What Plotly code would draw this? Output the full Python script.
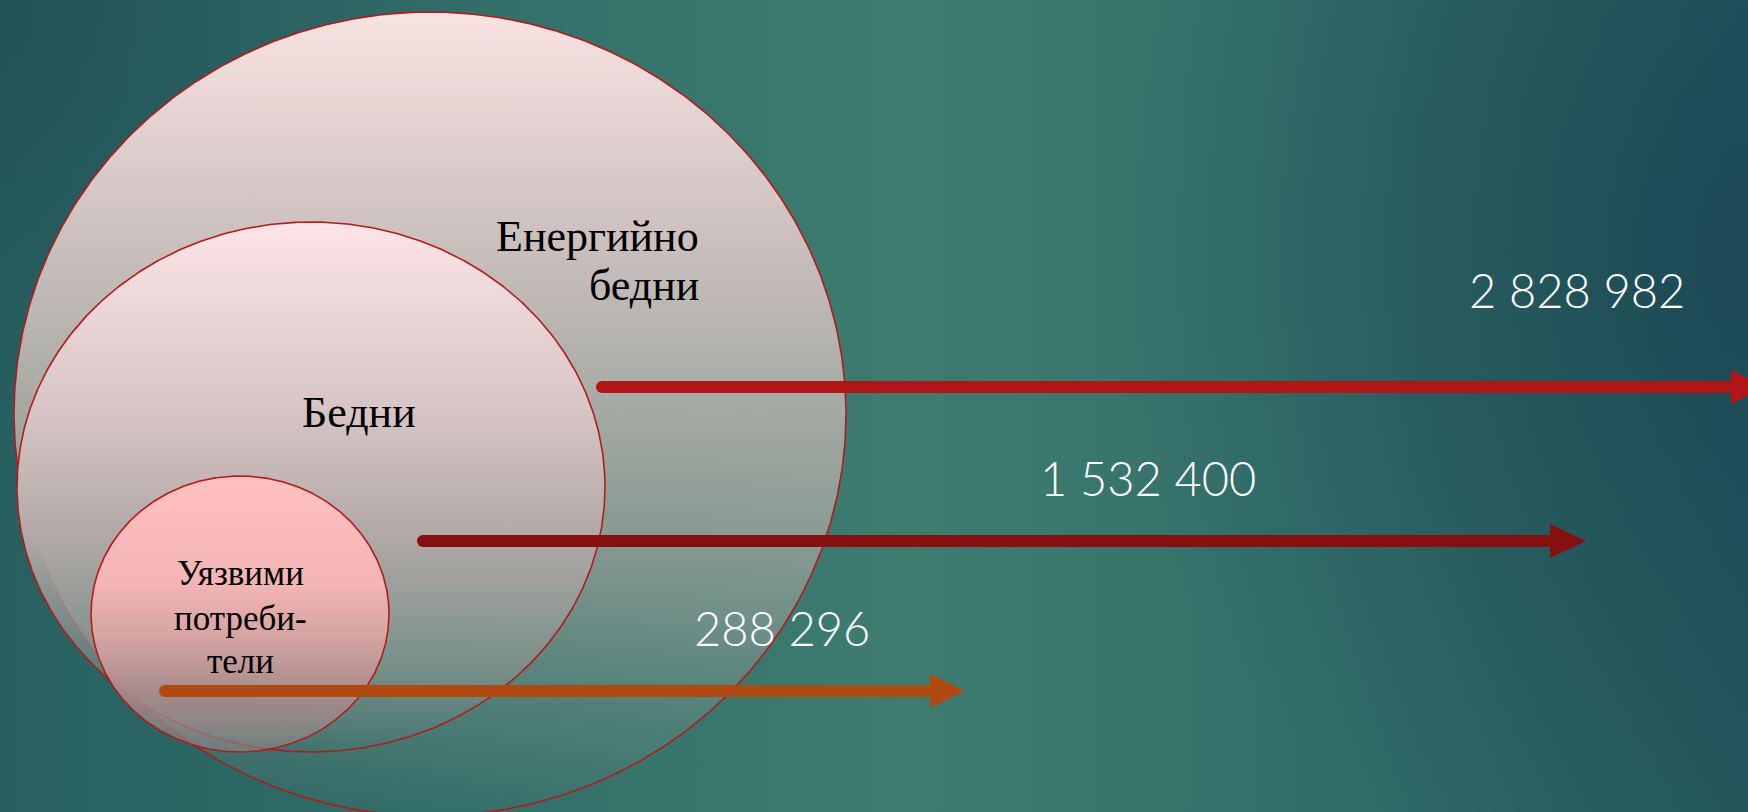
import numpy as np
import plotly.graph_objects as go

W, H = 1748, 812

# ---- data ----
groups = ["Енергийно бедни", "Бедни", "Уязвими потребители"]
counts = [2828982, 1532400, 288296]
group_label_lines = [["Енергийно", "бедни"], ["Бедни"], ["Уязвими", "потреби-", "тели"]]

# ellipse geometry (pixel space): cx, cy, rx, ry
ell_cx = [430, 311, 240]
ell_cy = [414, 487, 614]
ell_rx = [416, 294, 149]
ell_ry = [402, 265, 138]

# arrows: start x, y, head base x, tip x
arr_x0 = [602, 423, 165]
arr_y = [387, 541, 691]
arr_xb = [1731, 1550, 930]
arr_xt = [1766, 1586, 965]
arr_col = ["#b01616", "#860f0f", "#b04a10"]

# number labels positions
num_x = [1577, 1148, 782]
num_y = [290, 478, 628]

# label positions
lab_x = [701, 359, 240]
lab_y = [[236, 285], [412], [573, 618, 661]]
lab_anchor = ["right", "center", "center"]
lab_size = [44, 44, 35]

ell_scales = [
    [[0, "rgba(250,226,226,1)"], [0.3, "rgba(200,190,188,1)"], [0.47, "rgba(170,172,166,1)"],
     [0.66, "rgba(160,165,158,0.75)"], [0.845, "rgba(160,165,158,0.3)"], [1, "rgba(160,165,158,0)"]],
    [[0, "rgba(254,228,230,1)"], [0.36, "rgba(214,196,196,1)"], [0.6, "rgba(176,168,166,1)"],
     [0.8, "rgba(150,155,150,0.6)"], [1, "rgba(150,155,150,0)"]],
    [[0, "rgba(255,192,192,1)"], [0.4, "rgba(242,180,180,1)"], [0.6, "rgba(210,162,162,1)"],
     [0.8, "rgba(170,138,138,0.9)"], [1, "rgba(150,140,140,0.5)"]],
]

fig = go.Figure()

# background: horizontal base gradient
fig.add_trace(go.Scatter(
    x=[0, W, W, 0, 0], y=[0, 0, H, H, 0], mode="lines", fill="toself",
    line=dict(width=0), hoverinfo="skip", showlegend=False,
    fillgradient=dict(type="horizontal", start=0, stop=W,
                      colorscale=[[0, "#27605f"], [0.25, "#326e69"], [0.52, "#3e7c70"],
                                  [0.7, "#35726b"], [1, "#245a5e"]]),
))
# darker top-right glow
fig.add_trace(go.Scatter(
    x=[1100, 2396, 2396, 1100, 1100], y=[-450, -450, 950, 950, -450], mode="lines", fill="toself",
    line=dict(width=0), hoverinfo="skip", showlegend=False,
    fillgradient=dict(type="radial",
                      colorscale=[[0, "rgba(18,50,72,0.45)"], [1, "rgba(18,50,72,0)"]]),
))
# darker top-left corner
fig.add_trace(go.Scatter(
    x=[-500, 500, 500, -500, -500], y=[-450, -450, 450, 450, -450], mode="lines", fill="toself",
    line=dict(width=0), hoverinfo="skip", showlegend=False,
    fillgradient=dict(type="radial",
                      colorscale=[[0, "rgba(18,50,72,0.3)"], [1, "rgba(18,50,72,0)"]]),
))

t = np.linspace(0, 2 * np.pi, 721)
for i in range(3):
    ex = ell_cx[i] + ell_rx[i] * np.cos(t)
    ey = ell_cy[i] + ell_ry[i] * np.sin(t)
    fig.add_trace(go.Scatter(
        x=ex, y=ey, mode="lines", fill="toself",
        line=dict(color="#b31b1b", width=1.6), hoverinfo="skip", showlegend=False,
        fillgradient=dict(type="vertical", start=ell_cy[i] - ell_ry[i], stop=ell_cy[i] + ell_ry[i],
                          colorscale=ell_scales[i]),
    ))

shapes = []
for i in range(3):
    shapes.append(dict(type="line", xref="x", yref="y", x0=arr_x0[i], x1=arr_xb[i] + 2,
                       y0=arr_y[i], y1=arr_y[i], line=dict(color=arr_col[i], width=12), layer="above"))
    shapes.append(dict(type="circle", xref="x", yref="y", x0=arr_x0[i] - 6, x1=arr_x0[i] + 6,
                       y0=arr_y[i] - 6, y1=arr_y[i] + 6, fillcolor=arr_col[i],
                       line=dict(width=0), layer="above"))
    hh = 17
    shapes.append(dict(type="path", xref="x", yref="y",
                       path=f"M {arr_xb[i]},{arr_y[i]-hh} L {arr_xt[i]},{arr_y[i]} L {arr_xb[i]},{arr_y[i]+hh} Z",
                       fillcolor=arr_col[i], line=dict(width=0), layer="above"))

annotations = []
for i in range(3):
    annotations.append(dict(
        x=num_x[i], y=num_y[i], xref="x", yref="y", showarrow=False,
        text=f"{counts[i]:,}".replace(",", " "),
        font=dict(family="Lato", size=47, color="white", weight=300),
        xanchor="center", yanchor="middle"))
    for j, line in enumerate(group_label_lines[i]):
        annotations.append(dict(
            x=lab_x[i], y=lab_y[i][j], xref="x", yref="y", showarrow=False, text=line,
            font=dict(family="Liberation Serif, Times New Roman, serif", size=lab_size[i], color="black"),
            xanchor=lab_anchor[i], yanchor="middle"))

fig.update_layout(
    width=W, height=H, margin=dict(l=0, r=0, t=0, b=0),
    paper_bgcolor="#2f6a66", plot_bgcolor="#2f6a66",
    xaxis=dict(range=[0, W], visible=False, fixedrange=True),
    yaxis=dict(range=[H, 0], visible=False, fixedrange=True),
    shapes=shapes, annotations=annotations, showlegend=False,
)

fig.write_html("out.html", config={"displayModeBar": False},
               post_script="document.body.style.margin='0';document.body.style.overflow='hidden';")
